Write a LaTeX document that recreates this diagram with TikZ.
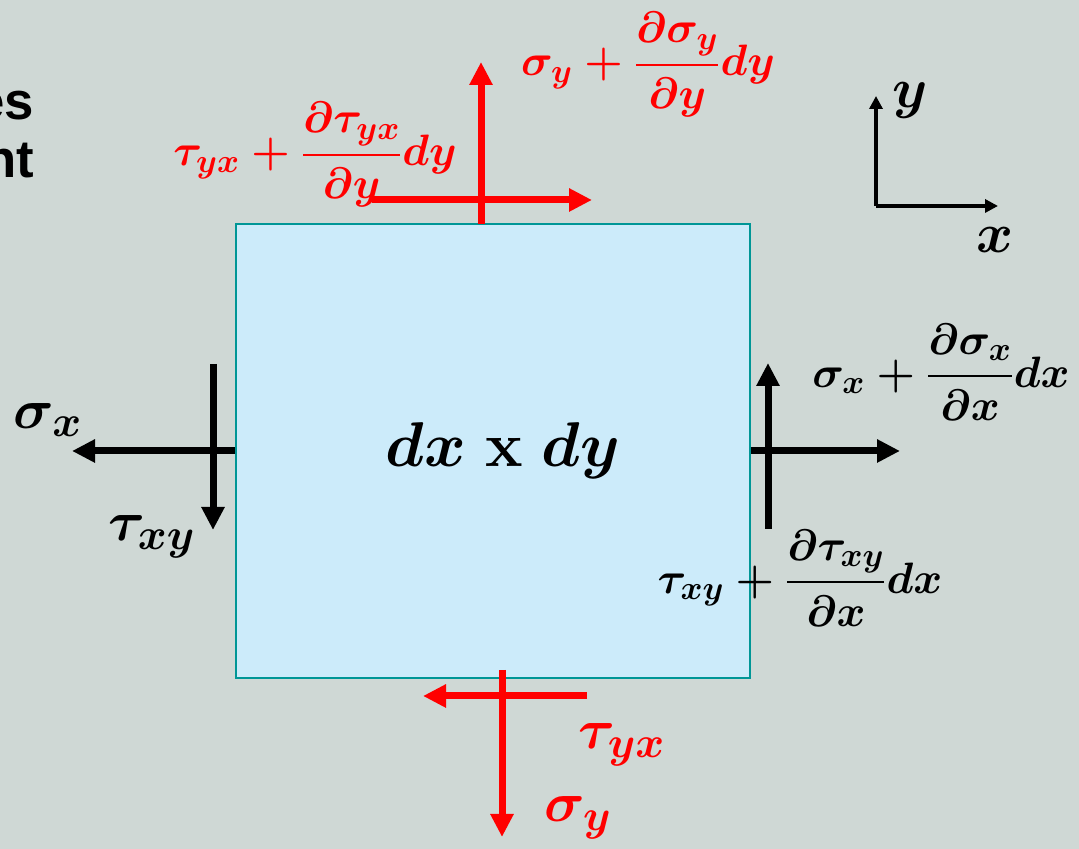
\RequirePackage{fix-cm}
\documentclass[tikz,border=0pt]{standalone}
\usepackage{amsmath,amssymb}
\usepackage{fontspec}
\newfontfamily\arialfont{Liberation Sans}
\usetikzlibrary{arrows.meta}
\definecolor{bggray}{RGB}{207,216,213}
\definecolor{boxblue}{RGB}{204,235,250}
\definecolor{boxedge}{RGB}{0,150,150}
\DeclareMathSizes{25}{25}{19}{15}
\DeclareMathSizes{32}{32}{25}{19}
\DeclareMathSizes{36}{36}{28}{21}

\begin{document}
\begin{tikzpicture}[every node/.style={font=\fontsize{25}{30}\selectfont\boldmath}, >={Triangle[length=4.6mm,width=4.4mm]},
	force/.style={->, line width=1.4mm},
	axis/.style={-{Triangle[length=2.6mm,width=2.6mm]}, line width=0.8mm},
	single/.style={font=\fontsize{32}{36}\selectfont\boldmath},
	cuttext/.style={anchor=east, font=\arialfont\fontsize{30}{34}\selectfont\bfseries}]
	\fill[bggray] (0,0) rectangle (21.58,16.98);
	\useasboundingbox (0,0) rectangle (21.58,16.98);
	\node[cuttext] (es) at (0.8,14.86) {es};
	\node[cuttext] (nt) at (0.8,13.76) {nt};
	\node[draw=boxedge, fill=boxblue, line width=0.5mm, minimum width=10.28cm, minimum height=9.08cm] (box) at (9.86,7.96) {};
	\node[font=\fontsize{36}{42}\selectfont\boldmath] (area) at (10.06,7.96) {$dx$ {\bfseries x} $dy$};
	% x faces
	\coordinate (sxl) at (1.44,7.96);
	\coordinate (txl1) at (4.26,9.70);
	\coordinate (txl2) at (4.26,6.38);
	\coordinate (sxr) at (18.0,7.96);
	\coordinate (txr1) at (15.36,6.40);
	\coordinate (txr2) at (15.36,9.72);
	\draw[force] (box.west) -- (sxl);
	\draw[force] (txl1) -- (txl2);
	\draw[force] (box.east) -- (sxr);
	\draw[force] (txr1) -- (txr2);
	\node[single] (sxlab) at (0.96,8.58) {$\sigma_x$};
	\node[single] (txlab) at (3.04,6.24) {$\tau_{xy}$};
	\node (sxrlab) at (18.82,9.54) {$\sigma_x+\dfrac{\partial\sigma_x}{\partial x}dx$};
	\node (txrlab) at (16.0,5.42) {$\tau_{xy}+\dfrac{\partial\tau_{xy}}{\partial x}dx$};
	% y faces
	\coordinate (syt1) at (9.62,12.5);
	\coordinate (syt2) at (9.62,15.74);
	\coordinate (tyt1) at (7.44,12.98);
	\coordinate (tyt2) at (11.84,12.98);
	\coordinate (syb1) at (10.04,3.58);
	\coordinate (syb2) at (10.04,0.24);
	\coordinate (tyb1) at (11.74,3.06);
	\coordinate (tyb2) at (8.46,3.06);
	\draw[force, red] (syt1) -- (syt2);
	\draw[force, red] (tyt1) -- (tyt2);
	\draw[force, red] (syb1) -- (syb2);
	\draw[force, red] (tyb1) -- (tyb2);
	\node[red] (sytlab) at (12.96,15.68) {$\sigma_y+\dfrac{\partial\sigma_y}{\partial y}dy$};
	\node[red] (tytlab) at (6.3,13.88) {$\tau_{yx}+\dfrac{\partial\tau_{yx}}{\partial y}dy$};
	\node[red, single] (tyblab) at (12.44,2.08) {$\tau_{yx}$};
	\node[red, single] (syblab) at (11.56,0.62) {$\sigma_y$};
	% axes
	\coordinate (o) at (17.52,12.86);
	\coordinate (ytip) at (17.52,15.06);
	\coordinate (xtip) at (19.96,12.86);
	\draw[axis] (o) -- (ytip);
	\draw[axis] (o) -- (xtip);
	\node[single] (ylab) at (18.2,14.98) {$y$};
	\node[single] (xlab) at (19.9,12.18) {$x$};
\end{tikzpicture}
\end{document}
